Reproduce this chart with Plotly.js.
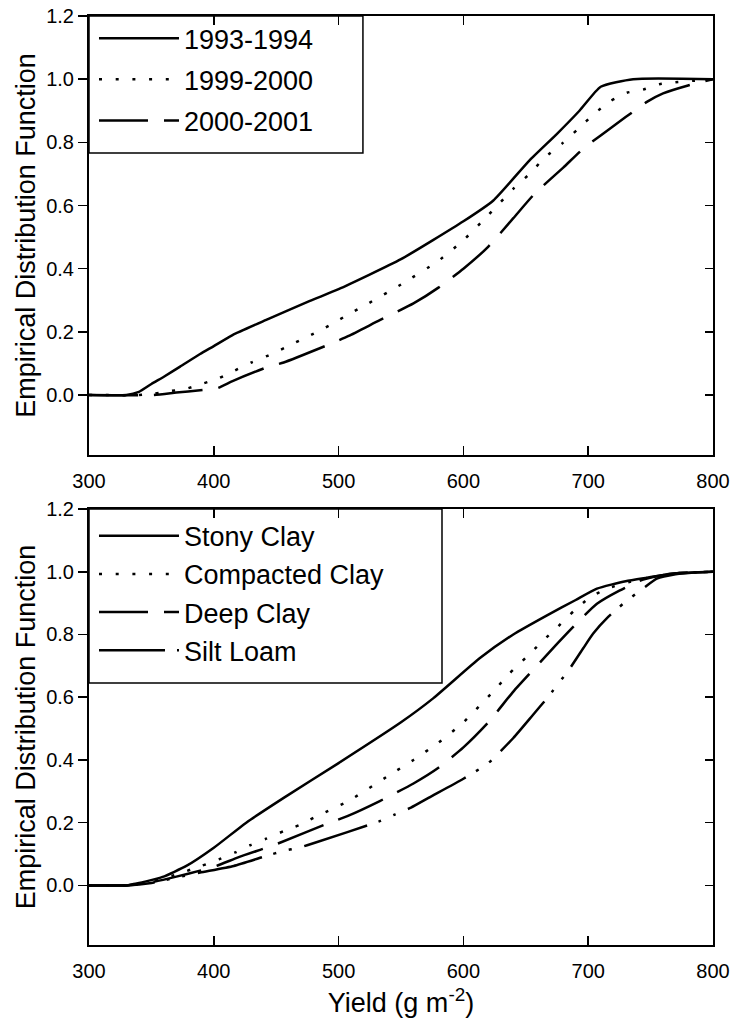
<!DOCTYPE html>
<html>
<head>
<meta charset="utf-8">
<script src="https://cdn.plot.ly/plotly-3.0.1.min.js"></script>
<style>html,body{margin:0;padding:0;background:#fff;}#chart{width:730px;height:1021px;}</style>
</head>
<body>
<div id="chart"></div>
<script>
// ---- Top panel: seasons ----
const seasonNames = ["1993-1994", "1999-2000", "2000-2001"];
const s9394_x = [300, 330, 340, 350, 360, 373, 389, 400, 415, 442, 477, 500, 550, 600, 624, 653, 675, 693, 710, 736, 800];
const s9394_y = [0, 0, 0.01, 0.035, 0.058, 0.09, 0.13, 0.155, 0.19, 0.238, 0.298, 0.335, 0.43, 0.55, 0.616, 0.743, 0.827, 0.9, 0.976, 1.0, 1.0];
const s9900_x = [300, 340, 352, 366, 378, 391, 404, 417, 430, 444, 457, 470, 483, 496, 509, 522, 550, 580, 600, 620, 640, 653, 665, 679, 692, 705, 718, 731, 744, 757, 800];
const s9900_y = [0, 0, 0.004, 0.013, 0.02, 0.036, 0.053, 0.078, 0.103, 0.126, 0.15, 0.175, 0.2, 0.228, 0.258, 0.286, 0.35, 0.425, 0.49, 0.57, 0.653, 0.70, 0.751, 0.796, 0.843, 0.891, 0.931, 0.957, 0.967, 0.984, 1.0];
const s0001_x = [300, 351, 370, 389, 403, 415, 442, 456, 496, 508, 533, 560, 580, 600, 620, 640, 657, 680, 696, 710, 730, 747, 760, 780, 800];
const s0001_y = [0, 0, 0.008, 0.015, 0.022, 0.044, 0.087, 0.103, 0.166, 0.187, 0.237, 0.29, 0.34, 0.40, 0.47, 0.56, 0.637, 0.72, 0.78, 0.822, 0.88, 0.928, 0.955, 0.98, 1.0];

// ---- Bottom panel: soils ----
const soilNames = ["Stony Clay", "Compacted Clay", "Deep Clay", "Silt Loam"];
const stony_x = [300, 330, 335, 345, 359, 378, 400, 426, 456, 500, 550, 576, 613, 640, 667, 690, 707, 730, 747, 770, 800];
const stony_y = [0, 0, 0.004, 0.012, 0.027, 0.062, 0.12, 0.2, 0.279, 0.39, 0.52, 0.597, 0.724, 0.80, 0.861, 0.91, 0.946, 0.97, 0.981, 0.995, 1.0];
const compact_x = [300, 330, 350, 370, 390, 404, 417, 429, 442, 456, 469, 481, 495, 508, 540, 560, 580, 600, 625, 637, 650, 663, 676, 689, 701, 715, 740, 770, 800];
const compact_y = [0, 0, 0.012, 0.035, 0.062, 0.083, 0.105, 0.128, 0.149, 0.173, 0.193, 0.218, 0.244, 0.269, 0.35, 0.40, 0.455, 0.52, 0.623, 0.676, 0.726, 0.777, 0.826, 0.877, 0.917, 0.946, 0.975, 0.995, 1.0];
const deep_x = [300, 330, 350, 370, 389, 402, 420, 442, 453, 493, 507, 533, 560, 580, 600, 620, 640, 657, 675, 693, 707, 725, 744, 766, 780, 800];
const deep_y = [0, 0, 0.01, 0.028, 0.047, 0.062, 0.09, 0.12, 0.136, 0.2, 0.221, 0.269, 0.325, 0.375, 0.44, 0.52, 0.618, 0.692, 0.77, 0.845, 0.898, 0.94, 0.975, 0.994, 0.998, 1.0];
const silt_x = [300, 330, 350, 370, 389, 416, 442, 456, 468, 481, 533, 545, 558, 572, 600, 620, 640, 655, 667, 685, 696, 704, 716, 728, 745, 755, 770, 785, 800];
const silt_y = [0, 0, 0.008, 0.025, 0.041, 0.062, 0.094, 0.11, 0.12, 0.136, 0.205, 0.226, 0.248, 0.279, 0.34, 0.39, 0.47, 0.54, 0.597, 0.69, 0.756, 0.803, 0.856, 0.898, 0.95, 0.978, 0.992, 0.998, 1.0];

const yTickVals = [0, 0.2, 0.4, 0.6, 0.8, 1.0, 1.2];
const xTickVals = [300, 400, 500, 600, 700, 800];

const FONT = "'Liberation Sans', Arial, sans-serif";
const LW = 2.5;
const DOT = "3px,13.7px";
const LDASH = "49px,16px";
const LDD = "66px,12px,3px,13px,3px,13px";

function tr(x, y, name, dash, xa, ya, legend, grp) {
  return {x: x, y: y, name: name, type: "scatter", mode: "lines",
    line: {color: "#000", width: LW, dash: dash, shape: "spline", smoothing: 0.5},
    xaxis: xa, yaxis: ya, legend: legend, legendgroup: grp, hoverinfo: "skip"};
}

const data = [
  tr(s9394_x, s9394_y, seasonNames[0], "solid", "x", "y", "legend", "a1"),
  tr(s9900_x, s9900_y, seasonNames[1], DOT, "x", "y", "legend", "a2"),
  tr(s0001_x, s0001_y, seasonNames[2], LDASH, "x", "y", "legend", "a3"),
  tr(stony_x, stony_y, soilNames[0], "solid", "x2", "y2", "legend2", "b1"),
  tr(compact_x, compact_y, soilNames[1], DOT, "x2", "y2", "legend2", "b2"),
  tr(deep_x, deep_y, soilNames[2], LDASH, "x2", "y2", "legend2", "b3"),
  tr(silt_x, silt_y, soilNames[3], LDD, "x2", "y2", "legend2", "b4"),
  // empty traces that carry the inward right-hand tick axes
  {x: [], y: [], type: "scatter", mode: "lines", xaxis: "x", yaxis: "y3", showlegend: false, hoverinfo: "skip"},
  {x: [], y: [], type: "scatter", mode: "lines", xaxis: "x2", yaxis: "y4", showlegend: false, hoverinfo: "skip"}
];

const topDom = [0.5274, 1];
const botDom = [0, 0.4693];
const yRange = [-0.19, 1.2];

function xAx(anchor, title) {
  const a = {domain: [0, 1], range: [300, 800], anchor: anchor, tickvals: xTickVals,
    ticks: "inside", ticklen: 9, tickwidth: 1.5, tickcolor: "#000",
    showline: true, linecolor: "#000", linewidth: 2, mirror: "ticks",
    showgrid: false, zeroline: false, fixedrange: true, ticklabelstandoff: 7,
    tickfont: {family: FONT, size: 20, color: "#000"}};
  if (title) a.title = {text: title, font: {family: FONT, size: 27, color: "#000"}, standoff: 12};
  return a;
}
function yAx(anchor, dom) {
  return {domain: dom, range: yRange, anchor: anchor, tickvals: yTickVals, tickformat: ".1f",
    ticks: "outside", ticklen: 9, tickwidth: 1.5, tickcolor: "#000",
    showline: true, linecolor: "#000", linewidth: 2, mirror: true,
    showgrid: false, zeroline: false, fixedrange: true,
    tickfont: {family: FONT, size: 20, color: "#000"},
    title: {text: "Empirical Distribution Function", font: {family: FONT, size: 27, color: "#000"}, standoff: 3}};
}
function yRight(anchor, over) {
  return {overlaying: over, anchor: anchor, side: "right", range: yRange, tickvals: yTickVals,
    ticks: "inside", ticklen: 8, tickwidth: 1.5, tickcolor: "#000",
    showticklabels: false, showline: false, showgrid: false, zeroline: false, fixedrange: true};
}

const legendBase = {xref: "paper", yref: "paper", xanchor: "left", yanchor: "top",
  bgcolor: "rgba(0,0,0,0)", borderwidth: 0,
  font: {family: FONT, size: 27, color: "#000"}, itemwidth: 80};

// legend frames (boxes around the legends)
const frameStyle = {type: "rect", xref: "paper", yref: "paper", layer: "below",
  line: {color: "#000", width: 1.5}, fillcolor: "#fff"};

const layout = {
  width: 730, height: 1021,
  margin: {l: 89, r: 17, t: 16, b: 76},
  paper_bgcolor: "#fff", plot_bgcolor: "#fff",
  showlegend: true,
  xaxis: xAx("y", null),
  yaxis: yAx("x", topDom),
  xaxis2: xAx("y2", "Yield (g m<sup>-2</sup>)"),
  yaxis2: yAx("x2", botDom),
  yaxis3: yRight("x", "y"),
  yaxis4: yRight("x2", "y2"),
  legend: Object.assign({}, legendBase, {x: 0.008, y: 1.002, traceorder: "grouped", tracegroupgap: 3}),
  legend2: Object.assign({}, legendBase, {x: 0.008, y: botDom[1] - 0.003, traceorder: "normal"}),
  shapes: [
    Object.assign({}, frameStyle, {x0: 0, x1: 0.439, y0: 0.8525, y1: 1}),
    Object.assign({}, frameStyle, {x0: 0, x1: 0.5657, y0: 0.282, y1: botDom[1]})
  ]
};

Plotly.newPlot("chart", data, layout, {displayModeBar: false, staticPlot: true});
</script>
</body>
</html>
